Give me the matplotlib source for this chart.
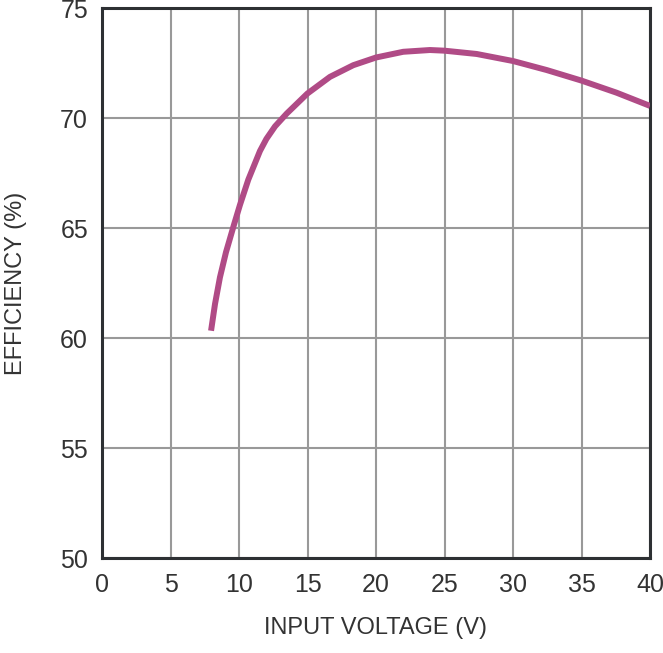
import matplotlib
matplotlib.use("Agg")
import matplotlib.pyplot as plt

# efficiency curve
vin = [7.96, 8.25, 8.61, 9.05, 9.62, 10.07, 10.68, 11.53, 12.0, 12.63, 13.48, 14.99,
       16.64, 18.34, 20.0, 21.99, 23.94, 25.0, 27.35, 30.0, 32.46, 35.0, 37.56, 40.0]
eff = [60.33, 61.55, 62.76, 63.90, 65.12, 66.05, 67.20, 68.50, 69.05, 69.62, 70.20, 71.11,
       71.87, 72.40, 72.75, 73.01, 73.09, 73.06, 72.91, 72.59, 72.18, 71.70, 71.15, 70.55]

xticks = [0, 5, 10, 15, 20, 25, 30, 35, 40]
yticks = [50, 55, 60, 65, 70, 75]

plt.rcParams['font.family'] = ['Liberation Sans', 'DejaVu Sans']
txt = '#333333'

fig = plt.figure(figsize=(6.63, 6.53), dpi=100)
ax = fig.add_axes([102/663, 1 - 558/653, 548/663, 550/653])

ax.plot(vin, eff, color='#b04b86', lw=4.3, solid_capstyle='butt',
        solid_joinstyle='round', zorder=3)

ax.set_xlim(0, 40)
ax.set_ylim(50, 75)
ax.set_xticks(xticks)
ax.set_yticks(yticks)
ax.grid(True, color='#999999', lw=1.5)
ax.set_axisbelow(True)
ax.tick_params(length=0, labelsize=18, labelcolor=txt)
ax.tick_params(axis='x', pad=11)
ax.tick_params(axis='y', pad=10)
for s in ax.spines.values():
    s.set_color('#2d3033')
    s.set_linewidth(2.2)

ax.set_xlabel("INPUT VOLTAGE (V)", fontsize=17, color=txt, labelpad=14)
ax.set_ylabel("EFFICIENCY (%)", fontsize=17, color=txt, labelpad=24)

plt.savefig("out.png")
